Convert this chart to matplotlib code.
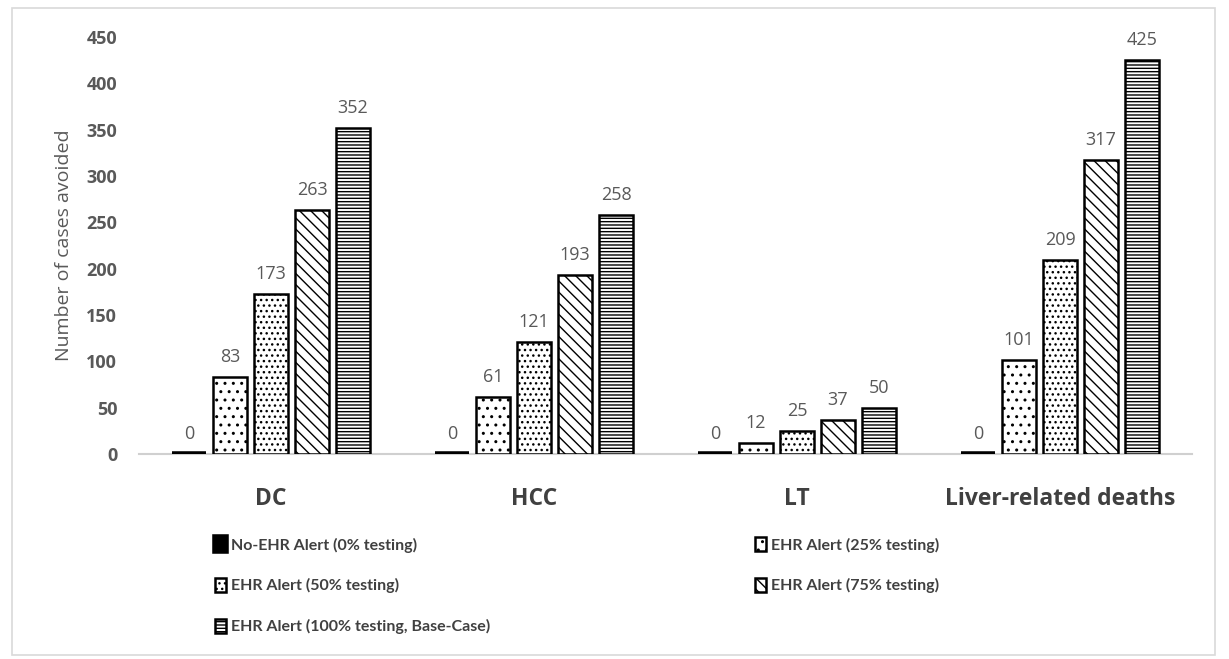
import matplotlib
matplotlib.use("Agg")
import matplotlib.pyplot as plt
import numpy as np
from matplotlib.patches import Rectangle

categories = ["DC", "HCC", "LT", "Liver-related deaths"]
series_names = ["No-EHR Alert (0% testing)", "EHR Alert (25% testing)",
                "EHR Alert (50% testing)", "EHR Alert (75% testing)",
                "EHR Alert (100% testing, Base-Case)"]
s0 = [0, 0, 0, 0]
s25 = [83, 61, 12, 101]
s50 = [173, 121, 25, 209]
s75 = [263, 193, 37, 317]
s100 = [352, 258, 50, 425]
series = [s0, s25, s50, s75, s100]
yticks = [0, 50, 100, 150, 200, 250, 300, 350, 400, 450]

hatches = ["", "..", "...", "\\\\\\", "-----"]
faces = ["black", "white", "white", "white", "white"]

plt.rcParams['font.family'] = ['Open Sans', 'DejaVu Sans']
plt.rcParams['hatch.linewidth'] = 1.0

fig = plt.figure(figsize=(12.29, 6.59), dpi=100)
ax = fig.add_axes([0.1135, 0.3111, 0.856, 0.6328])

x = np.arange(len(categories))
step = 0.156
width = 0.128
for i, (vals, h, fc) in enumerate(zip(series, hatches, faces)):
    offs = (i - 2) * step
    ax.bar(x + offs, vals, width, color=fc, edgecolor="black",
           hatch=h, linewidth=4.0 if i == 0 else 1.8, label=series_names[i], zorder=3)
    for xi, v in zip(x + offs, vals):
        ax.text(xi, v + 12, str(v), ha="center", va="bottom", fontsize=13, color="#595959")

ax.set_xlim(-0.5, 3.5)
ax.set_ylim(0, 450)
ax.set_yticks(yticks)
ax.set_xticks(x)
ax.set_xticklabels(categories, fontsize=16.5, fontweight="bold", color="#404040")
for lab in ax.get_yticklabels():
    lab.set_fontweight("bold")
    lab.set_fontsize(13)
    lab.set_color("#595959")
ax.tick_params(axis="both", length=0)
ax.tick_params(axis="x", pad=24)
ax.tick_params(axis="y", pad=16)
for s in ["top", "right", "left"]:
    ax.spines[s].set_visible(False)
ax.spines["bottom"].set_color("#d0d0d0")
ax.spines["bottom"].set_linewidth(1.5)
ax.spines["bottom"].set_zorder(2)
ax.set_ylabel("Number of cases avoided", fontsize=14, color="#595959")
ax.yaxis.set_label_coords(-0.0635, 0.5)

handles, labels = ax.get_legend_handles_labels()
order = [0, 2, 4, 1, 3]
leg = fig.legend([handles[k] for k in order], [labels[k] for k in order],
                 ncol=2, loc="upper left", bbox_to_anchor=(0.163, 0.207),
                 frameon=False, handlelength=0.7, handleheight=1.0,
                 handletextpad=0.3, columnspacing=16.6, labelspacing=1.58,
                 prop={'family': 'Lato', 'weight': 'bold', 'size': 11.5})
for t in leg.get_texts():
    t.set_color("#404040")

fig.patches.append(Rectangle((12 / 1229, 4 / 659), 1203 / 1229, 647 / 659,
                             transform=fig.transFigure, fill=False,
                             edgecolor="#d9d9d9", linewidth=1.2))

fig.savefig("out.png", dpi=100)
